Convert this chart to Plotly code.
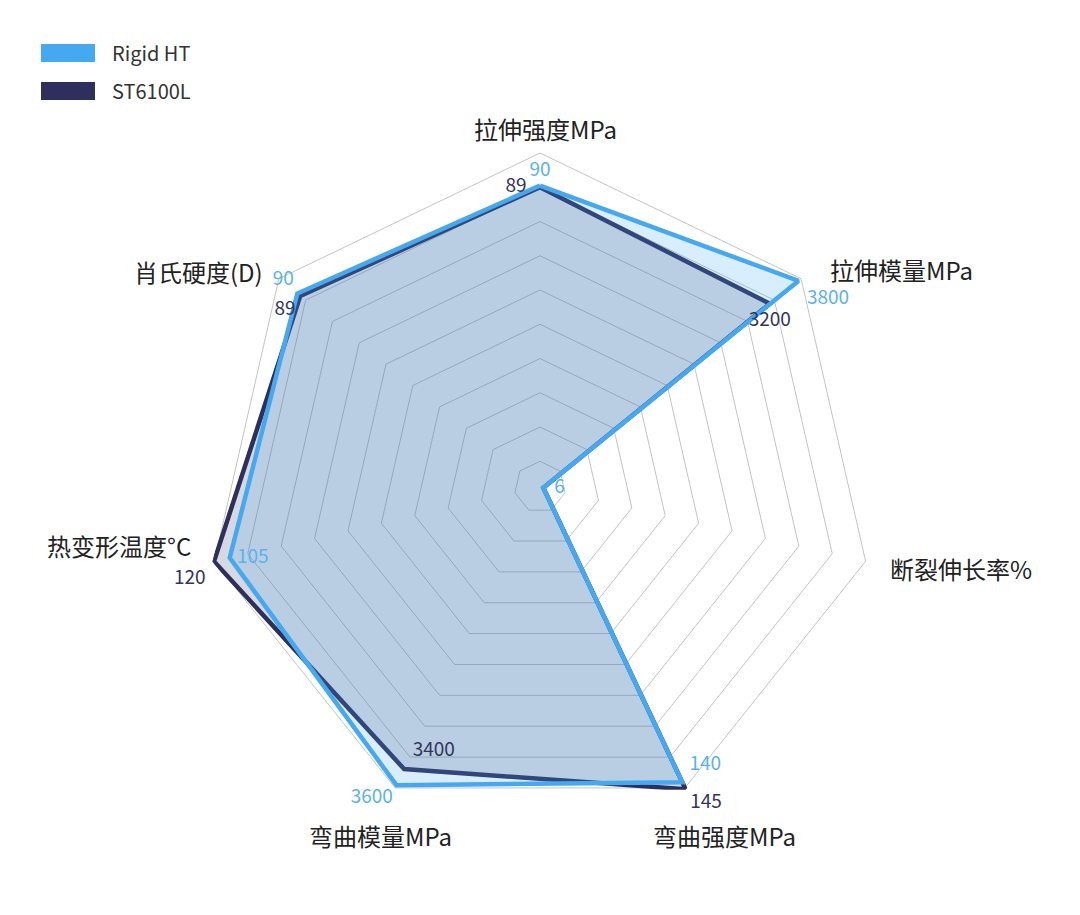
import math
import plotly.graph_objects as go

# axes, clockwise from the top
categories = ["拉伸强度MPa", "拉伸模量MPa", "断裂伸长率%", "弯曲强度MPa",
              "弯曲模量MPa", "热变形温度°C", "肖氏硬度(D)"]

# radial score of each vertex, as distance from the centre in ring spacings
rigid_score = [8.8, 9.65, 0.1, 9.57, 9.66, 9.29, 9.06]
st_score = [8.75, 8.58, 0.1, 9.79, 9.14, 9.76, 8.95]

# grid rings: first ring and number of rings
first_ring, n_rings = 0.75, 10

# printed values next to the vertices
rigid_labels = ["90", "3800", "6", "140", "3600", "105", "90"]
st_labels = ["89", "3200", "", "145", "3400", "120", "89"]

# label placement (style only)
rigid_pos = ["top center", "bottom right", "middle right", "top right",
             "bottom left", "middle right", "top left"]
rigid_pad = [6, 12, 16, 10, 4, 10, 4]
st_pos = ["middle left", "bottom center", "middle right", "bottom right",
          "top right", "bottom left", "bottom left"]
st_pad = [20, 12, 2, 6, 12, 12, 6]

# axis title placement: offset from the outer vertex and anchors
title_dx = [5, 27, 22, 40, -15, -21, -14]
title_dy = [-25, -9, 7, 48, 48, -16, -7]
title_anchor = ["center", "left", "left", "center", "center", "right", "right"]

BLUE = "#44a9f0"
NAVY = "#2e2f5c"
FONT = "Noto Sans CJK SC"

# the page body adds an 8px margin, so the figure is sized to the window
W, H, OFF = 1072, 907, 8


def px_x(x):
    return (x - OFF) / W


def px_y(y):
    return 1 - (y - OFF) / H


def closed(vals):
    return vals + vals[:1]


fig = go.Figure()

fig.add_trace(go.Scatterpolar(
    r=closed(st_score), theta=closed(categories),
    mode="lines", fill="toself",
    fillcolor="rgba(46,47,92,0.19)",
    line=dict(color=NAVY, width=4.5),
    name="ST6100L", hoverinfo="skip"
))
fig.add_trace(go.Scatterpolar(
    r=closed(rigid_score), theta=closed(categories),
    mode="lines", fill="toself",
    fillcolor="rgba(66,168,240,0.2)",
    line=dict(color=BLUE, width=4.5),
    name="Rigid HT", hoverinfo="skip"
))

fig.add_trace(go.Scatterpolar(
    r=st_score, theta=categories, mode="markers+text",
    text=st_labels, textposition=st_pos,
    marker=dict(size=st_pad, opacity=0),
    textfont=dict(family=FONT, size=19, color="#33345a"),
    cliponaxis=False, showlegend=False, hoverinfo="skip"
))
fig.add_trace(go.Scatterpolar(
    r=rigid_score, theta=categories, mode="markers+text",
    text=rigid_labels, textposition=rigid_pos,
    marker=dict(size=rigid_pad, opacity=0),
    textfont=dict(family=FONT, size=19, color="#5ab2ec"),
    cliponaxis=False, showlegend=False, hoverinfo="skip"
))

rings = [first_ring + k for k in range(n_rings)]
outer_ring = rings[-1]
r_max = outer_ring + 0.06
cx, cy = 540, 487
ring_px = 334 / outer_ring  # pixels per ring unit
rad = ring_px * r_max

fig.update_layout(
    width=W, height=H,
    margin=dict(l=0, r=0, t=0, b=0),
    paper_bgcolor="white",
    plot_bgcolor="white",
    showlegend=False,
    font=dict(family=FONT, color="#222222"),
    polar=dict(
        domain=dict(x=[px_x(cx - rad), px_x(cx + rad)],
                    y=[px_y(cy + rad), px_y(cy - rad)]),
        bgcolor="rgba(0,0,0,0)",
        gridshape="linear",
        radialaxis=dict(
            range=[0, r_max],
            tickvals=rings,
            showticklabels=False,
            ticks="",
            showline=False,
            gridcolor="#c4c4c4",
            gridwidth=1,
        ),
        angularaxis=dict(
            direction="clockwise",
            rotation=90,
            showgrid=False,
            showline=False,
            ticks="",
            showticklabels=False,
        ),
    ),
)

# axis titles around the outer ring
outer_px = ring_px * outer_ring
n = len(categories)
for i, name in enumerate(categories):
    ang = 2 * math.pi * i / n
    vx = cx + outer_px * math.sin(ang)
    vy = cy - outer_px * math.cos(ang)
    fig.add_annotation(xref="paper", yref="paper",
                       x=px_x(vx + title_dx[i]), y=px_y(vy + title_dy[i]),
                       text=name, showarrow=False,
                       xanchor=title_anchor[i], yanchor="middle",
                       font=dict(family=FONT, size=24, color="#222222"))

# legend drawn by hand: wide colour swatches with names
legend_items = [("Rigid HT", BLUE), ("ST6100L", NAVY)]
for i, (name, col) in enumerate(legend_items):
    top = 44 + i * 38
    fig.add_shape(type="rect", xref="paper", yref="paper",
                  x0=px_x(41), x1=px_x(95),
                  y0=px_y(top + 18), y1=px_y(top),
                  fillcolor=col, line=dict(width=0))
    fig.add_annotation(xref="paper", yref="paper", x=px_x(110),
                       y=px_y(top + 9), text=name, showarrow=False,
                       xanchor="left", yanchor="middle",
                       font=dict(family=FONT, size=20, color="#333333"))

fig.write_html("out.html")
